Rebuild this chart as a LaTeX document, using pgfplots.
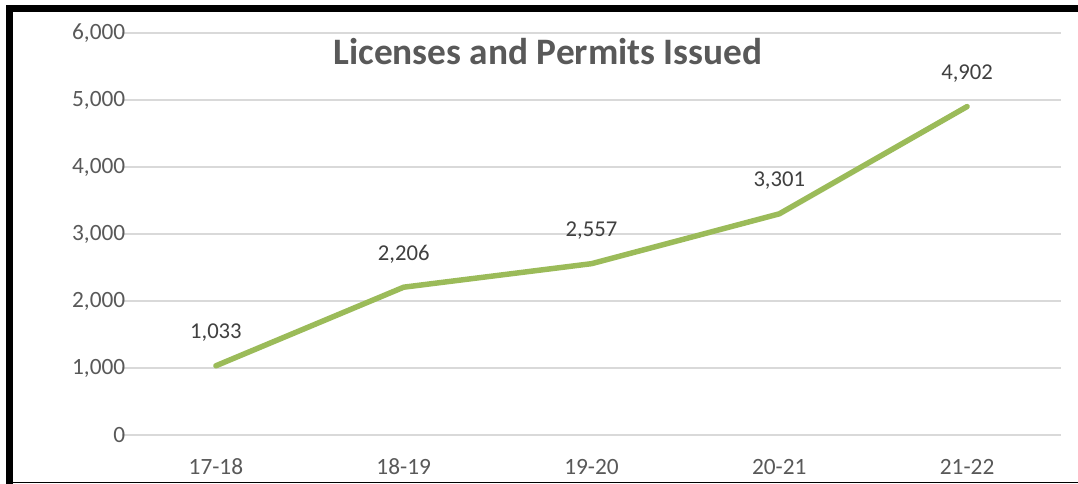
\documentclass[border=0pt]{standalone}
\usepackage{fontspec}
\setmainfont{Carlito}
\usepackage{pgfplots}
\pgfplotsset{compat=1.18}
\definecolor{tickgray}{HTML}{595959}
\definecolor{labgray}{HTML}{404040}
\definecolor{gridgray}{HTML}{D9D9D9}
\definecolor{linegreen}{HTML}{9BBB59}
\begin{document}
\begin{tikzpicture}[x=1pt,y=1pt]
\useasboundingbox (0,0) rectangle (808.5,363);
\fill[white] (0,0) rectangle (808.5,363);
\begin{axis}[
  at={(91.5pt,36.75pt)}, anchor=south west,
  scale only axis,
  width=704.25pt, height=301.5pt,
  xmin=-0.5, xmax=4.5,
  ymin=0, ymax=6000,
  ytick={0,1000,2000,3000,4000,5000,6000},
  xtick={0,1,2,3,4},
  xticklabels={17-18,18-19,19-20,20-21,21-22},
  axis line style={draw=none},
  major tick length=0pt,
  ymajorgrids,
  grid style={gridgray, line width=1pt},
  /pgf/number format/assume math mode=true,
  /pgf/number format/1000 sep={,},
  ticklabel style={font=\fontsize{17.5}{20}\selectfont, text=tickgray},
  yticklabel style={xshift=6pt},
  xticklabel style={yshift=-14.5pt},
  nodes near coords,
  every node near coord/.append style={font=\fontsize{17}{20}\selectfont, text=labgray, anchor=center, yshift=25pt},
  clip=false,
]
\addplot[color=linegreen, line width=4.1pt, line join=round, line cap=round, mark=none] coordinates {
  (0,1033) (1,2206) (2,2557) (3,3301) (4,4902)
};
\end{axis}
\node[font=\fontsize{28}{32}\selectfont\bfseries, text=tickgray] at (411,324) {Licenses and Permits Issued};
\fill[black] (4.5,0) rectangle (9.75,359.25);
\fill[black] (4.5,354) rectangle (808.5,359.25);
\draw[black, line width=1.2pt] (4.5,1.2) -- (808.5,1.2);
\end{tikzpicture}
\end{document}
